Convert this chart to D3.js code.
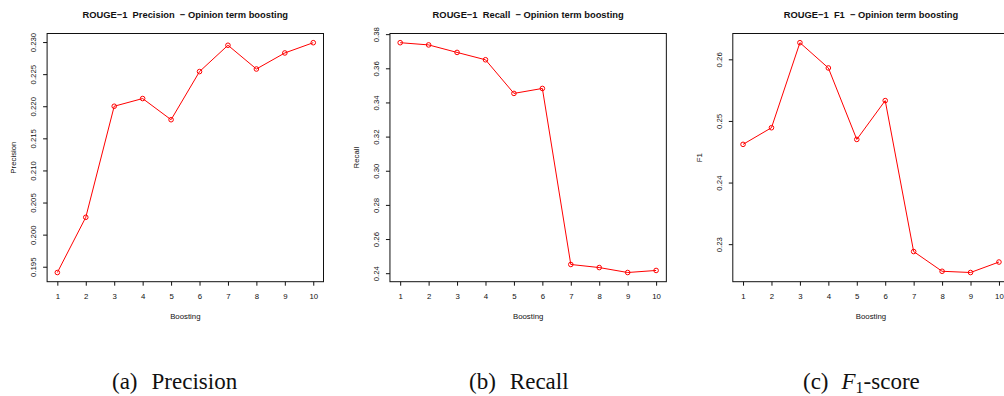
<!DOCTYPE html>
<html>
<head>
<meta charset="utf-8">
<script src="https://cdn.jsdelivr.net/npm/d3@7"></script>
<style>
  html, body { margin: 0; padding: 0; background: #fff; }
  svg { display: block; }
  svg text { white-space: pre; }
  .axis text { font-family: "Liberation Sans", Arial, sans-serif; }
</style>
</head>
<body>
<svg id="chart" width="1004" height="396"></svg>
<script>
// Boosting levels and ROUGE-1 scores for each level
const boosting = [1, 2, 3, 4, 5, 6, 7, 8, 9, 10];
const precision = [0.1941, 0.2027, 0.2200, 0.2212, 0.2179, 0.2254, 0.2295, 0.2258, 0.2283, 0.2299];
const recall = [0.3750, 0.3737, 0.3693, 0.3650, 0.3453, 0.3482, 0.2451, 0.2433, 0.2404, 0.2416];
const f1 = [0.2462, 0.2489, 0.2627, 0.2586, 0.2470, 0.2533, 0.2288, 0.2256, 0.2254, 0.2271];

// Y tick values and their labels
const precisionTicks = [0.195, 0.200, 0.205, 0.210, 0.215, 0.220, 0.225, 0.230];
const precisionTickLabels = ["0.195", "0.200", "0.205", "0.210", "0.215", "0.220", "0.225", "0.230"];
const recallTicks = [0.24, 0.26, 0.28, 0.30, 0.32, 0.34, 0.36, 0.38];
const recallTickLabels = ["0.24", "0.26", "0.28", "0.30", "0.32", "0.34", "0.36", "0.38"];
const f1Ticks = [0.23, 0.24, 0.25, 0.26];
const f1TickLabels = ["0.23", "0.24", "0.25", "0.26"];

const titles = ["ROUGE\u22121  Precision  \u2212 Opinion term boosting",
                "ROUGE\u22121  Recall  \u2212 Opinion term boosting",
                "ROUGE\u22121  F1  \u2212 Opinion term boosting"];
const yLabels = ["Precision", "Recall", "F1"];
const xLabel = "Boosting";

const panels = [
  { values: precision, ticks: precisionTicks, tickLabels: precisionTickLabels },
  { values: recall, ticks: recallTicks, tickLabels: recallTickLabels },
  { values: f1, ticks: f1Ticks, tickLabels: f1TickLabels }
];

const svg = d3.select("#chart");
const sans = '"Liberation Sans", Arial, Helvetica, sans-serif';
const serif = '"Liberation Serif", "Times New Roman", Times, serif';
const baseSize = 7.8;

const plotTop = 33.5, plotBottom = 281.7;
const plotWidth = 276.4, firstLeft = 47.1, panelStep = 342.85;

panels.forEach((p, i) => {
  const left = firstLeft + i * panelStep;
  const right = left + plotWidth;

  // R-style 4% padding on both axes
  const xPad = (d3.max(boosting) - d3.min(boosting)) * 0.04;
  const x = d3.scaleLinear()
    .domain([d3.min(boosting) - xPad, d3.max(boosting) + xPad])
    .range([left, right]);
  const [vMin, vMax] = d3.extent(p.values);
  const yPad = (vMax - vMin) * 0.04;
  const y = d3.scaleLinear()
    .domain([vMin - yPad, vMax + yPad])
    .range([plotBottom, plotTop]);

  const g = svg.append("g");

  // x axis
  const xAxis = g.append("g")
    .attr("class", "axis")
    .attr("transform", `translate(0,${plotBottom})`)
    .call(d3.axisBottom(x).tickValues(boosting).tickSize(4).tickPadding(8).tickFormat(d3.format("d")));
  xAxis.select(".domain").remove();
  xAxis.selectAll("line").attr("stroke", "#111");
  xAxis.selectAll("text").attr("font-size", baseSize).attr("fill", "#111");

  // y axis with vertical labels
  const shown = p.ticks.map((t, k) => ({ t, label: p.tickLabels[k] }))
    .filter(d => d.t >= y.domain()[0] && d.t <= y.domain()[1]);
  const yAxis = g.append("g")
    .attr("class", "axis")
    .attr("transform", `translate(${left},0)`)
    .call(d3.axisLeft(y).tickValues(shown.map(d => d.t)).tickSize(4)
      .tickFormat((d, k) => shown[k].label));
  yAxis.select(".domain").remove();
  yAxis.selectAll("line").attr("stroke", "#111");
  yAxis.selectAll("text")
    .attr("x", 0).attr("y", 0).attr("dy", null)
    .attr("text-anchor", "middle")
    .attr("font-size", baseSize)
    .attr("fill", "#111")
    .attr("transform", "translate(-11.2,0) rotate(-90)");

  // plot box
  g.append("rect")
    .attr("x", left).attr("y", plotTop)
    .attr("width", plotWidth).attr("height", plotBottom - plotTop)
    .attr("fill", "none").attr("stroke", "#111").attr("stroke-width", 1);

  // series line and open circle markers
  const pts = boosting.map((b, k) => [b, p.values[k]]);
  g.append("path")
    .datum(pts)
    .attr("fill", "none")
    .attr("stroke", "#ff0000")
    .attr("stroke-width", 1)
    .attr("d", d3.line().x(d => x(d[0])).y(d => y(d[1])));
  g.selectAll("circle.pt")
    .data(pts)
    .join("circle")
    .attr("class", "pt")
    .attr("cx", d => x(d[0])).attr("cy", d => y(d[1]))
    .attr("r", 2.3)
    .attr("fill", "none").attr("stroke", "#ff0000").attr("stroke-width", 1);

  const cx = (left + right) / 2;

  // main title
  g.append("text")
    .attr("x", cx).attr("y", 18.3)
    .attr("text-anchor", "middle")
    .attr("font-family", sans).attr("font-weight", "bold")
    .attr("font-size", baseSize * 1.2).attr("fill", "#111")
    .text(titles[i]);

  // axis titles
  g.append("text")
    .attr("x", cx).attr("y", 318.5)
    .attr("text-anchor", "middle")
    .attr("font-family", sans).attr("font-size", baseSize).attr("fill", "#111")
    .text(xLabel);
  g.append("text")
    .attr("transform", `translate(${left - 31.2},${(plotTop + plotBottom) / 2}) rotate(-90)`)
    .attr("text-anchor", "middle")
    .attr("font-family", sans).attr("font-size", baseSize).attr("fill", "#111")
    .text(yLabels[i]);
});

// sub-figure captions
const capY = 389;
const capSize = 23;
const cap = svg.append("g").attr("font-family", serif).attr("font-size", capSize).attr("fill", "#111");

const capA = cap.append("text").attr("x", 112).attr("y", capY);
capA.append("tspan").text("(a)");
capA.append("tspan").attr("dx", 14).text("Precision");

const capB = cap.append("text").attr("x", 469).attr("y", capY);
capB.append("tspan").text("(b)");
capB.append("tspan").attr("dx", 14).text("Recall");

const capC = cap.append("text").attr("x", 803).attr("y", capY);
capC.append("tspan").text("(c)");
capC.append("tspan").attr("dx", 13).attr("font-style", "italic").text("F");
capC.append("tspan").attr("font-size", 16).attr("dy", 4).text("1");
capC.append("tspan").attr("dy", -4).text("-score");
</script>
</body>
</html>
